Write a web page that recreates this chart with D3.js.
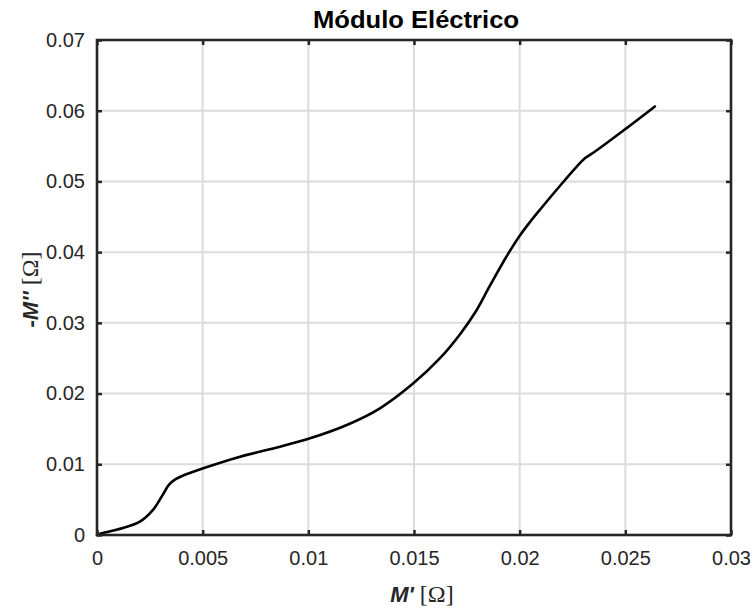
<!DOCTYPE html>
<html>
<head>
<meta charset="utf-8">
<script src="https://cdn.jsdelivr.net/npm/d3@7"></script>
<style>
html,body{margin:0;padding:0;background:#fff;}
svg{display:block;}
</style>
</head>
<body>
<svg id="chart" width="756" height="609"></svg>
<script>
// Data
const mReal = [0, 0.00022, 0.00123, 0.00203, 0.00265, 0.00306, 0.00340, 0.00365, 0.00400, 0.00503, 0.00677, 0.00866, 0.01008, 0.01182, 0.01339, 0.01497, 0.01623, 0.01718, 0.01790, 0.01860, 0.01946, 0.02002, 0.02050, 0.02096, 0.02180, 0.02270, 0.02310, 0.02360, 0.02500, 0.02640];
const mImag = [0, 0.00024, 0.00099, 0.00188, 0.00354, 0.00542, 0.00710, 0.00775, 0.00830, 0.00943, 0.01107, 0.01249, 0.01367, 0.01556, 0.01792, 0.02145, 0.02500, 0.02840, 0.03150, 0.03530, 0.03980, 0.04240, 0.04430, 0.04600, 0.04900, 0.05210, 0.05330, 0.05430, 0.05740, 0.06060];
const xTicks = [0, 0.005, 0.01, 0.015, 0.02, 0.025, 0.03];
const yTicks = [0, 0.01, 0.02, 0.03, 0.04, 0.05, 0.06, 0.07];
const xTickLabels = ["0", "0.005", "0.01", "0.015", "0.02", "0.025", "0.03"];
const yTickLabels = ["0", "0.01", "0.02", "0.03", "0.04", "0.05", "0.06", "0.07"];
const titleText = "Módulo Eléctrico";

const svg = d3.select("#chart");
const L = 97, R = 731, T = 40, B = 535;
const axisColor = "#262626";
const x = d3.scaleLinear().domain([0, 0.03]).range([L, R]);
const y = d3.scaleLinear().domain([0, 0.07]).range([B, T]);

// grid
const grid = svg.append("g");
grid.selectAll(".gx").data(xTicks.slice(1, -1)).enter().append("line")
  .attr("x1", d => x(d)).attr("x2", d => x(d)).attr("y1", T).attr("y2", B)
  .attr("stroke", "#dcdcdc").attr("stroke-width", 2);
grid.selectAll(".gy").data(yTicks.slice(1, -1)).enter().append("line")
  .attr("y1", d => y(d)).attr("y2", d => y(d)).attr("x1", L).attr("x2", R)
  .attr("stroke", "#dcdcdc").attr("stroke-width", 2);

// curve
const pts = mReal.map((v, i) => [v, mImag[i]]);
svg.append("path").datum(pts)
  .attr("fill", "none").attr("stroke", "#000").attr("stroke-width", 2.6)
  .attr("stroke-linejoin", "round").attr("stroke-linecap", "round")
  .attr("d", d3.line().x(d => x(d[0])).y(d => y(d[1])).curve(d3.curveCatmullRom.alpha(0.5)));

// axes (bottom/left with labels, top/right tick-only), inner ticks
const fmtX = (d, i) => xTickLabels[i];
const fmtY = (d, i) => yTickLabels[i];
const ax = svg.append("g").attr("transform", `translate(0,${B})`)
  .call(d3.axisBottom(x).tickValues(xTicks).tickFormat(fmtX).tickSizeInner(-5).tickSizeOuter(0).tickPadding(16));
const ay = svg.append("g").attr("transform", `translate(${L},0)`)
  .call(d3.axisLeft(y).tickValues(yTicks).tickFormat(fmtY).tickSizeInner(-5).tickSizeOuter(0).tickPadding(12));
const at = svg.append("g").attr("transform", `translate(0,${T})`)
  .call(d3.axisTop(x).tickValues(xTicks).tickFormat("").tickSizeInner(-5).tickSizeOuter(0));
const ar = svg.append("g").attr("transform", `translate(${R},0)`)
  .call(d3.axisRight(y).tickValues(yTicks).tickFormat("").tickSizeInner(-5).tickSizeOuter(0));
[ax, ay, at, ar].forEach(g => {
  g.select(".domain").remove();
  g.selectAll(".tick line").attr("stroke", axisColor).attr("stroke-width", 2.5);
  g.selectAll("text").attr("fill", axisColor)
    .style("font-family", "'Liberation Sans', Arial, Helvetica, sans-serif").style("font-size", "20px");
});
// box
svg.append("rect").attr("x", L).attr("y", T).attr("width", R - L).attr("height", B - T)
  .attr("fill", "none").attr("stroke", axisColor).attr("stroke-width", 2.6);

// title
svg.append("text").attr("x", (L + R) / 2 + 2).attr("y", 28).attr("text-anchor", "middle")
  .attr("textLength", 206).attr("lengthAdjust", "spacingAndGlyphs")
  .style("font-family", "'Liberation Sans', Arial, sans-serif").style("font-size", "23px").style("font-weight", "bold")
  .attr("fill", "#000").text(titleText);

// x label
const xl = svg.append("text").attr("x", (L + R) / 2 + 8).attr("y", 602).attr("text-anchor", "middle").attr("fill", axisColor);
xl.append("tspan").style("font-family", "'Liberation Sans', Arial, sans-serif").style("font-weight", "bold").style("font-style", "italic").style("font-size", "22px").text("M'");
xl.append("tspan").style("font-family", "'Liberation Serif', 'Times New Roman', serif").style("font-size", "24px").text(" [Ω]");

// y label
const yl = svg.append("text").attr("transform", `translate(38,${(T + B) / 2 + 2}) rotate(-90)`).attr("text-anchor", "middle").attr("fill", axisColor);
yl.append("tspan").style("font-family", "'Liberation Sans', Arial, sans-serif").style("font-weight", "bold").style("font-style", "italic").style("font-size", "22px").text("-M''");
yl.append("tspan").style("font-family", "'Liberation Serif', 'Times New Roman', serif").style("font-size", "24px").text(" [Ω]");
</script>
</body>
</html>
